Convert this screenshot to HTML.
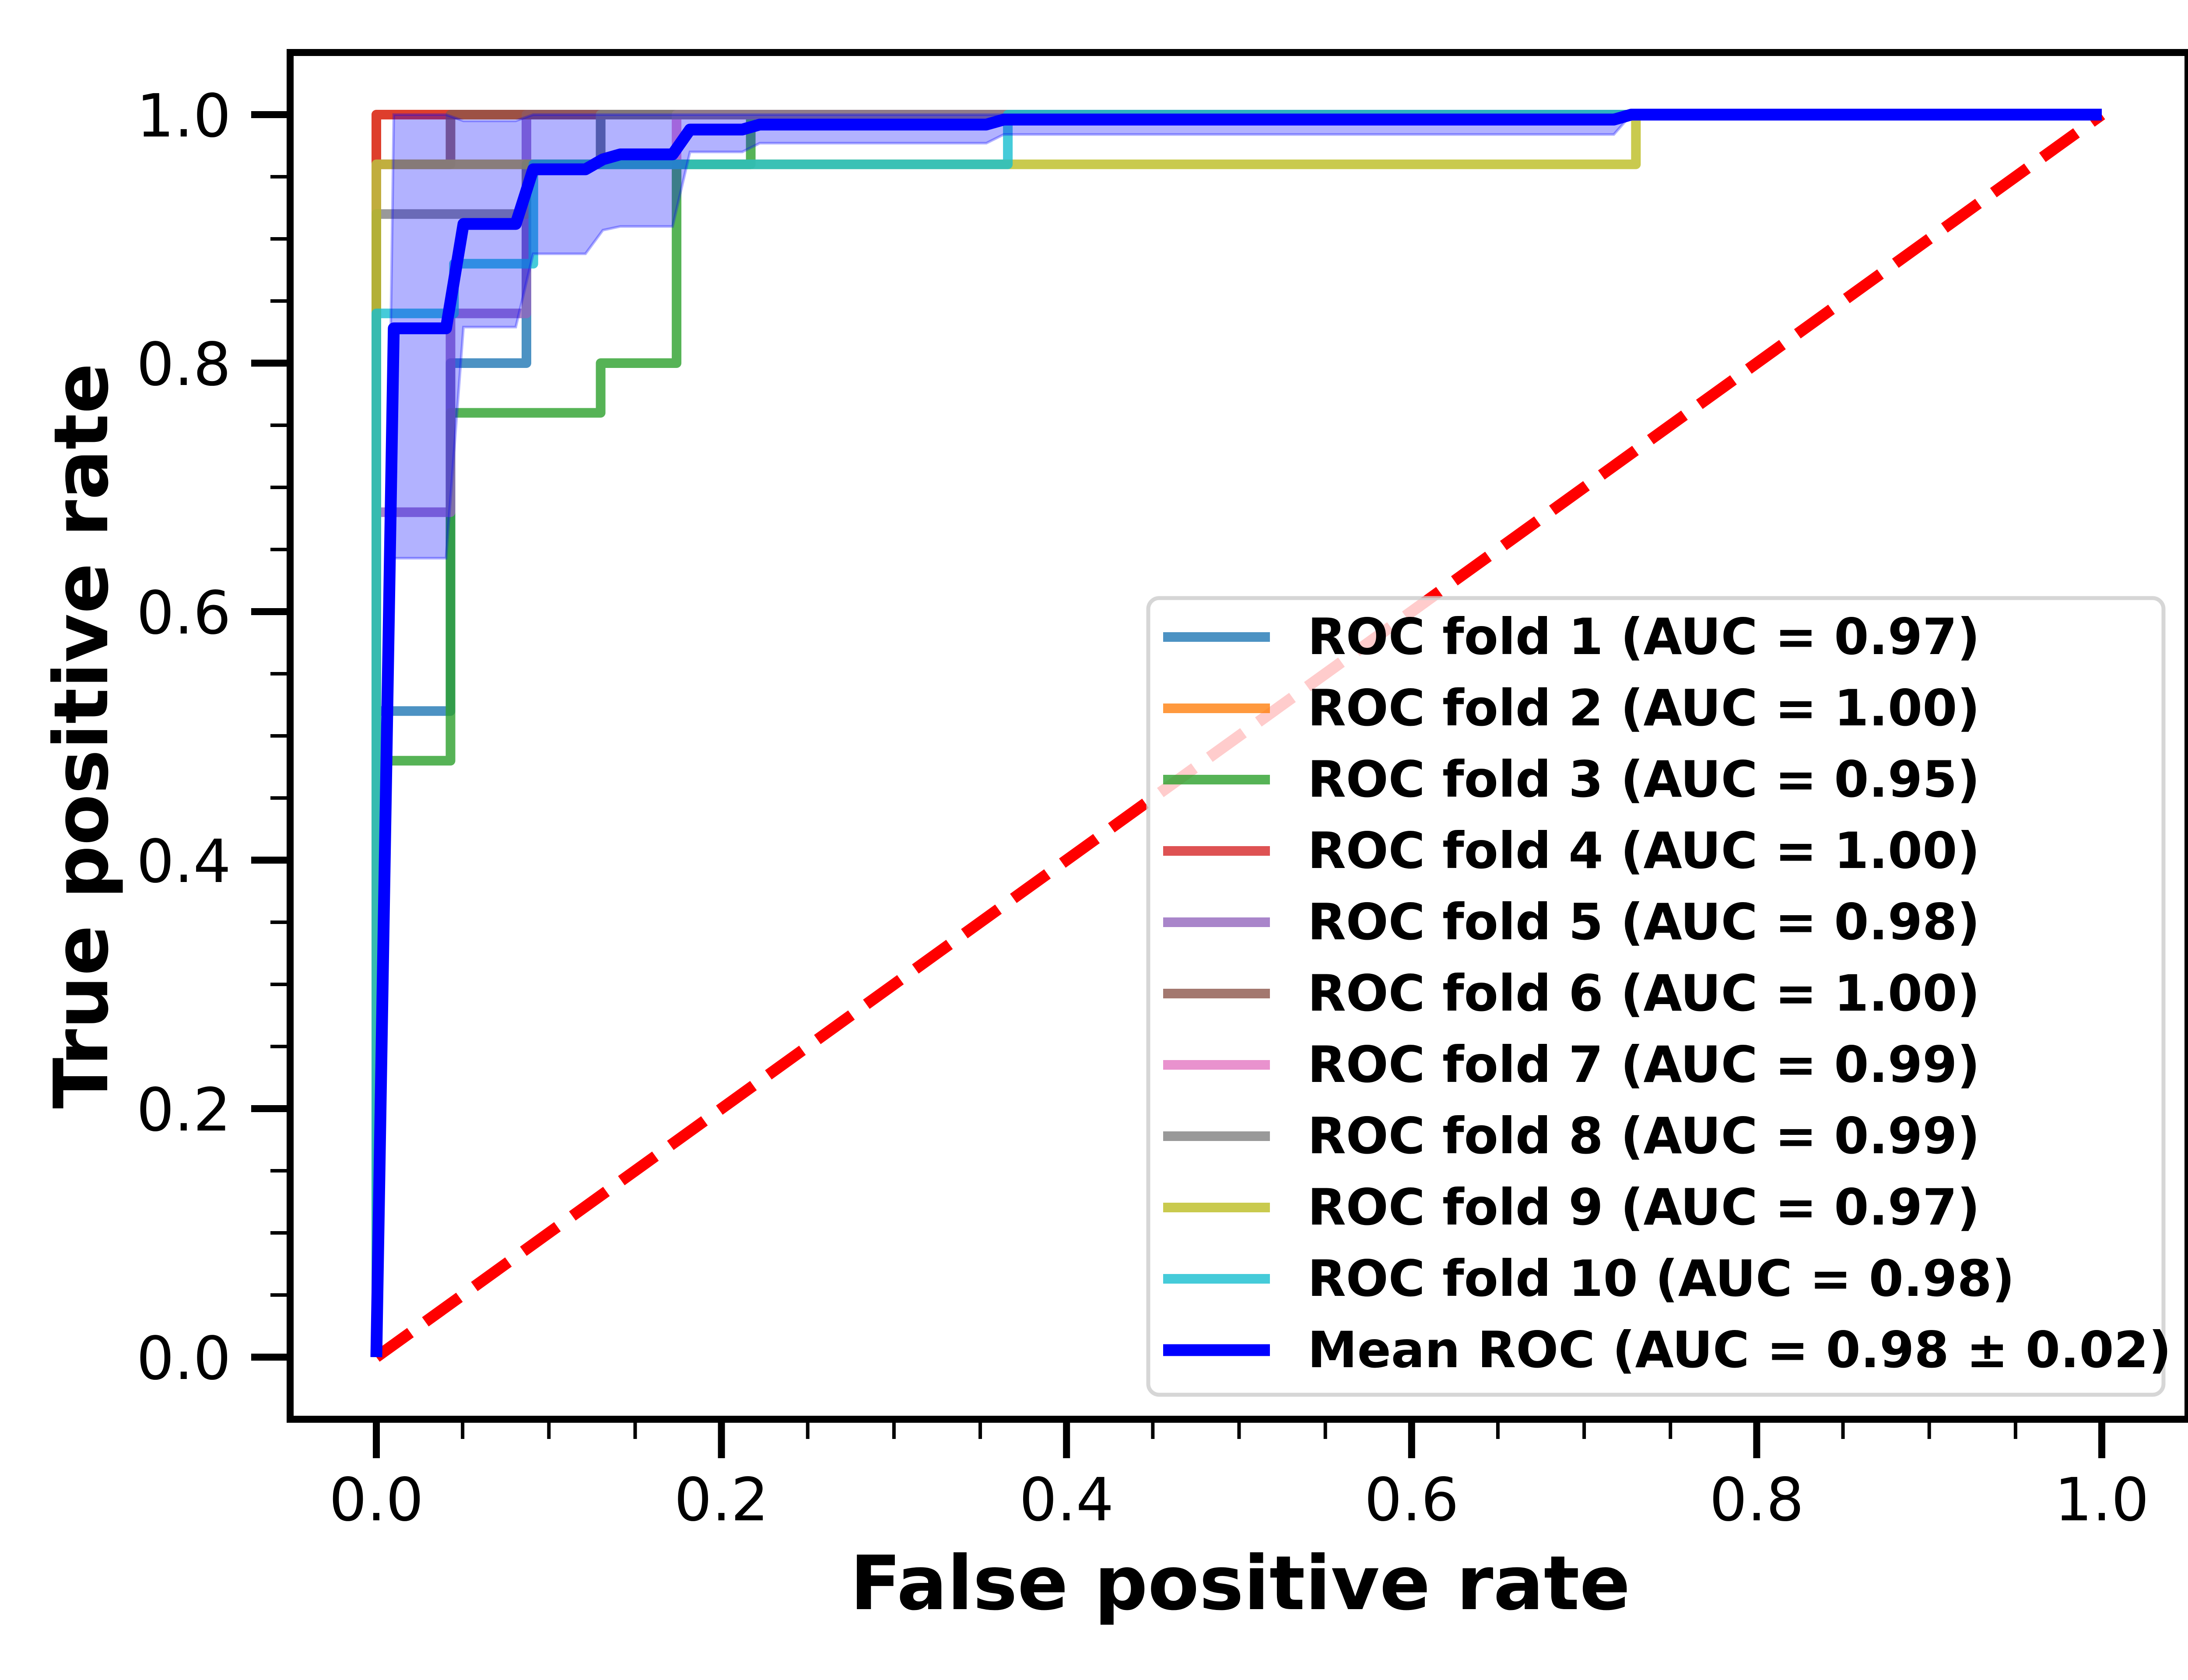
<!DOCTYPE html>
<html><head><meta charset="utf-8"><style>
html,body{margin:0;padding:0;background:#fff;}
svg{display:block;font-family:"DejaVu Sans","Liberation Sans",sans-serif;}
</style></head><body>
<svg id="chart" width="5120" height="3840" viewBox="0 0 5120 3840" xmlns="http://www.w3.org/2000/svg">
<rect x="0" y="0" width="5120" height="3840" fill="#fff"/>
<g id="plot"></g>
<g id="axes"></g>
<g id="legend"></g>
<text x="2834" y="3678" font-size="171" font-weight="bold" text-anchor="middle">False positive rate</text>
<text transform="translate(245,1682) rotate(-90)" font-size="171" font-weight="bold" text-anchor="middle">True positive rate</text>
</svg>
<script>
const foldNames = ["ROC fold 1 (AUC = 0.97)","ROC fold 2 (AUC = 1.00)","ROC fold 3 (AUC = 0.95)","ROC fold 4 (AUC = 1.00)","ROC fold 5 (AUC = 0.98)","ROC fold 6 (AUC = 1.00)","ROC fold 7 (AUC = 0.99)","ROC fold 8 (AUC = 0.99)","ROC fold 9 (AUC = 0.97)","ROC fold 10 (AUC = 0.98)"];
const foldColors = ["#1f77b4","#ff7f0e","#2ca02c","#d62728","#9467bd","#8c564b","#e377c2","#7f7f7f","#bcbd22","#17becf"];
const foldFpr = [
 [0,0,0.043,0.043,0.087,0.087,0.13,0.13,1],
 [0,0,1],
 [0,0,0.043,0.043,0.13,0.13,0.174,0.174,0.217,0.217,1],
 [0,0,1],
 [0,0,0.043,0.043,0.087,0.087,1],
 [0,0,0.043,0.043,1],
 [0,0,0.174,0.174,1],
 [0,0,0.087,0.087,0.13,0.13,1],
 [0,0,0,0.73,0.73,1],
 [0,0,0.045,0.045,0.091,0.091,0.366,0.366,1]
];
const foldTpr = [
 [0,0.52,0.52,0.8,0.8,0.96,0.96,1,1],
 [0,1,1],
 [0,0.48,0.48,0.76,0.76,0.8,0.8,0.96,0.96,1,1],
 [0,1,1],
 [0,0.68,0.68,0.84,0.84,1,1],
 [0,0.96,0.96,1,1],
 [0,0.96,0.96,1,1],
 [0,0.92,0.92,0.96,0.96,1,1],
 [0,0.84,0.96,0.96,1,1],
 [0,0.84,0.84,0.88,0.88,0.96,0.96,1,1]
];
const meanFpr = [0,0.0101,0.0404,0.0505,0.0808,0.0909,0.1212,0.1313,0.1414,0.1717,0.1818,0.2121,0.2222,0.3535,0.3636,0.7172,0.7273,1.0];
const meanTpr = [0,0.828,0.828,0.912,0.912,0.956,0.956,0.964,0.968,0.968,0.988,0.988,0.992,0.992,0.996,0.996,1.0,1.0];
const bandLower = [0,0.643,0.643,0.829,0.829,0.888,0.888,0.907,0.910,0.910,0.970,0.970,0.977,0.977,0.984,0.984,1.0,1.0];
const bandUpper = [0,1,1,0.995,0.995,1,1,1,1,1,1,1,1,1,1,1,1,1];
const meanLabel = "Mean ROC (AUC = 0.98 \u00b1 0.02)";
const xTicks = [0,0.2,0.4,0.6,0.8,1.0];
const yTicks = [0,0.2,0.4,0.6,0.8,1.0];
const xTickLabels = ["0.0","0.2","0.4","0.6","0.8","1.0"];
const yTickLabels = ["0.0","0.2","0.4","0.6","0.8","1.0"];

const NS="http://www.w3.org/2000/svg";
const X0=860,X1=4803,Y0=3102,Y1=262;
const sx=v=>X0+(X1-X0)*v;
const sy=v=>Y0-(Y0-Y1)*v;
function mk(tag,attrs,parent){const e=document.createElementNS(NS,tag);for(const k in attrs)e.setAttribute(k,attrs[k]);parent.appendChild(e);return e;}
const plot=document.getElementById('plot');
const axes=document.getElementById('axes');
const legend=document.getElementById('legend');

foldFpr.forEach((xs,i)=>{
  const d=xs.map((x,j)=>(j?'L':'M')+sx(x).toFixed(1)+','+sy(foldTpr[i][j]).toFixed(1)).join(' ');
  const p=mk('path',{d:d,fill:'none',stroke:foldColors[i],'stroke-opacity':0.8,'stroke-width':22,'stroke-linejoin':'round','stroke-linecap':'butt'},plot);
  
  
});
const diag=mk('line',{x1:sx(0),y1:sy(0),x2:sx(1),y2:sy(1),stroke:'#ff0000','stroke-width':26,'stroke-dasharray':'96 42'},plot);



let bd=meanFpr.map((x,j)=>(j?'L':'M')+sx(x).toFixed(1)+','+sy(bandUpper[j]).toFixed(1)).join(' ');
for(let j=meanFpr.length-1;j>=0;j--) bd+=' L'+sx(meanFpr[j]).toFixed(1)+','+sy(bandLower[j]).toFixed(1);
bd+=' Z';
const band=mk('path',{d:bd,fill:'#0000ff','fill-opacity':0.3,stroke:'#0000ff','stroke-opacity':0.3,'stroke-width':6},plot);



const md=meanFpr.map((x,j)=>(j?'L':'M')+sx(x).toFixed(1)+','+sy(meanTpr[j]).toFixed(1)).join(' ');
const mean=mk('path',{d:md,fill:'none',stroke:'#0000ff','stroke-width':27,'stroke-linejoin':'round'},plot);



const frame=mk('rect',{x:663,y:120,width:4337,height:3124,fill:'none',stroke:'#000','stroke-width':16},axes);



for(let k=-1;k<=21;k++){
  const v=k*0.05, major=(k%4===0);
  if(k>=0&&k<=20){
    const tx=mk('line',{x1:sx(v),x2:sx(v),y1:3244,y2:3244+(major?89:45),stroke:'#000','stroke-width':major?16:8},axes);
    
    
    const ty=mk('line',{x1:663,x2:663-(major?89:45),y1:sy(v),y2:sy(v),stroke:'#000','stroke-width':major?16:8},axes);
    
    
  }
}
xTicks.forEach((v,i)=>{
  const t=mk('text',{x:sx(v),y:3475,'font-size':136,'text-anchor':'middle'},axes);
  t.textContent=xTickLabels[i];
  
  
});
yTicks.forEach((v,i)=>{
  const t=mk('text',{x:528,y:sy(v)+50,'font-size':136,'text-anchor':'end'},axes);
  t.textContent=yTickLabels[i];
  
  
});

const lb=mk('rect',{x:2624,y:1367,width:2320,height:1821,rx:25,ry:25,fill:'#ffffff','fill-opacity':0.8,stroke:'#cccccc','stroke-opacity':0.8,'stroke-width':9},legend);


const names=foldNames.concat([meanLabel]);
const cols=foldColors.concat(['#0000ff']);
names.forEach((n,i)=>{
  const cy=1456+i*163;
  const last=(i===names.length-1);
  const h=mk('line',{x1:2658,x2:2902,y1:cy,y2:cy,stroke:cols[i],'stroke-opacity':last?1:0.8,'stroke-width':last?27:22},legend);
  
  
  const t=mk('text',{x:2988,y:cy+39,'font-size':114,'font-weight':'bold'},legend);
  t.textContent=n;
  
  
});
</script>
</body></html>
